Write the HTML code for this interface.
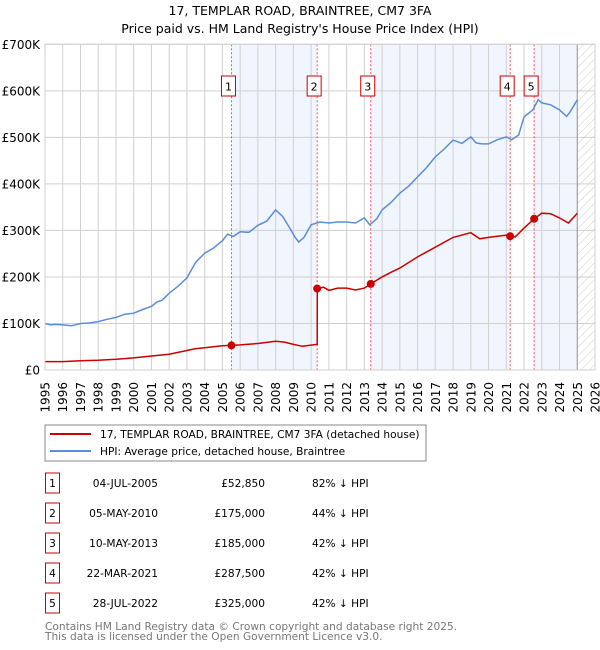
<!DOCTYPE html>
<html><head><meta charset="utf-8"><style>
body{margin:0;background:#fff;}
svg{display:block;font-family:"DejaVu Sans","Liberation Sans",sans-serif;}
</style></head><body>
<svg id="chart" width="600" height="650" viewBox="0 0 600 650">
<defs>
<pattern id="hatch" width="6" height="6" patternUnits="userSpaceOnUse" patternTransform="rotate(45)">
<line x1="0" y1="0" x2="0" y2="6" stroke="#ccc" stroke-width="1"/>
</pattern>
</defs>
<text x="300" y="15" text-anchor="middle" font-size="12.5">17, TEMPLAR ROAD, BRAINTREE, CM7 3FA</text>
<text x="300" y="33" text-anchor="middle" font-size="12.5">Price paid vs. HM Land Registry's House Price Index (HPI)</text>
<g id="plot"></g>
<g id="legend">
<rect x="45" y="425" width="381" height="36" fill="#fff" stroke="#888"/>
<line x1="50" y1="434" x2="91" y2="434" stroke="#cc0000" stroke-width="2"/>
<text x="100" y="438" font-size="10.6">17, TEMPLAR ROAD, BRAINTREE, CM7 3FA (detached house)</text>
<line x1="50" y1="451" x2="91" y2="451" stroke="#5b8ed6" stroke-width="2"/>
<text x="100" y="455" font-size="10.6">HPI: Average price, detached house, Braintree</text>
</g>
<g id="table" font-size="10.6"></g>
<text x="45" y="630" font-size="10.6" fill="#777">Contains HM Land Registry data © Crown copyright and database right 2025.</text>
<text x="45" y="640" font-size="10.6" fill="#777">This data is licensed under the Open Government Licence v3.0.</text>
</svg>
<script>
const yTicks=[0,100000,200000,300000,400000,500000,600000,700000];
const yTickLabels=["£0","£100K","£200K","£300K","£400K","£500K","£600K","£700K"];
const xYears=[1995,1996,1997,1998,1999,2000,2001,2002,2003,2004,2005,2006,2007,2008,2009,2010,2011,2012,2013,2014,2015,2016,2017,2018,2019,2020,2021,2022,2023,2024,2025,2026];
const hpiT=[1995,1995.3,1995.6,1996,1996.5,1997,1997.5,1998,1998.5,1999,1999.5,2000,2000.5,2001,2001.3,2001.6,2002,2002.5,2003,2003.5,2004,2004.5,2005,2005.3,2005.6,2006,2006.5,2007,2007.5,2008,2008.4,2008.8,2009.1,2009.3,2009.6,2010,2010.5,2011,2011.5,2012,2012.5,2013,2013.3,2013.7,2014,2014.5,2015,2015.5,2016,2016.5,2017,2017.5,2018,2018.5,2019,2019.3,2019.6,2020,2020.5,2021,2021.3,2021.7,2022,2022.5,2022.8,2023,2023.5,2024,2024.4,2024.6,2025];
const hpiV=[100,97,98,97,95,100,101,104,109,113,120,122,130,137,146,150,165,180,198,232,251,262,278,292,287,297,296,311,320,344,330,305,285,275,285,312,318,316,318,318,316,327,312,325,344,360,380,395,415,435,458,475,494,487,501,488,486,486,495,501,495,505,544,559,581,574,570,559,545,555,581];
const ppT=[1995,1996,1997,1998,1999,2000,2001,2002,2003,2003.5,2004,2005,2005.5,2006,2007,2008,2008.5,2009,2009.5,2010.34,2010.345,2010.7,2011,2011.5,2012,2012.5,2013,2013.36,2014,2014.5,2015,2016,2017,2018,2019,2019.5,2020,2021,2021.22,2021.5,2022,2022.57,2023,2023.5,2024,2024.5,2025];
const ppV=[18,18,20,21,23,26,30,34,42,46,48,52,52.85,54,57,62,60,55,51,55,175,178,171,176,176,172,176,185,200,210,219,243,264,285,295,282,285,290,287.5,286,305,325,337,336,327,316,337];
const saleT=[2005.51,2010.34,2013.36,2021.22,2022.57];
const saleV=[52850,175000,185000,287500,325000];
const saleIds=["1","2","3","4","5"];
const saleDates=["04-JUL-2005","05-MAY-2010","10-MAY-2013","22-MAR-2021","28-JUL-2022"];
const salePrices=["£52,850","£175,000","£185,000","£287,500","£325,000"];
const salePct=["82% ↓ HPI","44% ↓ HPI","42% ↓ HPI","42% ↓ HPI","42% ↓ HPI"];

const X0=45,X1=595,Y0=370,Y1=44.3;
const xs=t=>X0+(t-1995)/(2026-1995)*(X1-X0);
const ys=v=>Y0-v/700000*(Y0-Y1);
const NS="http://www.w3.org/2000/svg";
const plot=document.getElementById('plot');
function mk(tag,attrs,parent){const e=document.createElementNS(NS,tag);for(const k in attrs)e.setAttribute(k,attrs[k]);(parent||plot).appendChild(e);return e;}

const bands=[[0,1],[2,3],[4,null]];
bands.forEach(b=>{
 const xa=xs(saleT[b[0]]),xb=b[1]===null?xs(2025):xs(saleT[b[1]]);
 const r=mk('rect',{x:xa,y:Y1,width:xb-xa,height:Y0-Y1,fill:'#eef3fc',opacity:0.8});
 
 
});
const hr=mk('rect',{x:xs(2025),y:Y1,width:X1-xs(2025),height:Y0-Y1,fill:'url(#hatch)'});



xYears.forEach(y=>{
 const l=mk('line',{x1:xs(y),x2:xs(y),y1:Y1,y2:Y0,stroke:'#d0d0d0','stroke-width':1});
 
 
 const t=mk('text',{x:0,y:0,'font-size':12,'text-anchor':'end',transform:`translate(${xs(y)+4.5},382) rotate(-90)`});
 t.textContent=y;
 
 
});
yTicks.forEach((v,i)=>{
 const l=mk('line',{x1:X0,x2:X1,y1:ys(v),y2:ys(v),stroke:'#d0d0d0','stroke-width':1});
 
 
 const t=mk('text',{x:40,y:ys(v)+4.5,'font-size':12,'text-anchor':'end'});
 t.textContent=yTickLabels[i];
 
 
});
const vl=mk('line',{x1:xs(2025),x2:xs(2025),y1:Y1,y2:Y0,stroke:'#999','stroke-width':1});



saleT.forEach((t,i)=>{
 const l=mk('line',{x1:xs(t),x2:xs(t),y1:Y1,y2:Y0,stroke:'#e55','stroke-width':1,'stroke-dasharray':'2,2'});
 
 
 const bx=xs(t)-3;
 const r=mk('rect',{x:bx-7,y:76,width:14,height:20,fill:'#fff',stroke:'#cc0000'});
 
 
 const tx=mk('text',{x:bx,y:90.5,'font-size':11,'text-anchor':'middle'});
 tx.textContent=saleIds[i];
 
 
});

const hp=mk('path',{d:hpiT.map((t,i)=>(i?'L':'M')+xs(t).toFixed(1)+','+ys(hpiV[i]*1000).toFixed(1)).join(''),fill:'none',stroke:'#5b8ed6','stroke-width':1.5});


const pp=mk('path',{d:ppT.map((t,i)=>(i?'L':'M')+xs(t).toFixed(1)+','+ys(ppV[i]*1000).toFixed(1)).join(''),fill:'none',stroke:'#cc0000','stroke-width':1.5});


saleT.forEach((t,i)=>{
 const c=mk('circle',{cx:xs(t),cy:ys(saleV[i]),r:4,fill:'#cc0000'});
 
 
});
const fr=mk('rect',{x:X0,y:Y1,width:X1-X0,height:Y0-Y1,fill:'none',stroke:'#d0d0d0'});



const tbl=document.getElementById('table');
saleIds.forEach((id,i)=>{
 const cy=483+i*30;
 const r=mk('rect',{x:45.5,y:cy-10,width:14,height:20,fill:'#fff',stroke:'#cc0000'},tbl);
 
 
 const a=mk('text',{x:52.5,y:cy+4,'text-anchor':'middle'},tbl);
 a.textContent=id;
 
 
 const d=mk('text',{x:158,y:cy+4,'text-anchor':'end'},tbl);
 d.textContent=saleDates[i];
 
 
 const p=mk('text',{x:265,y:cy+4,'text-anchor':'end'},tbl);
 p.textContent=salePrices[i];
 
 
 const q=mk('text',{x:312,y:cy+4},tbl);
 q.textContent=salePct[i];
 
 
});
</script>
</body></html>
